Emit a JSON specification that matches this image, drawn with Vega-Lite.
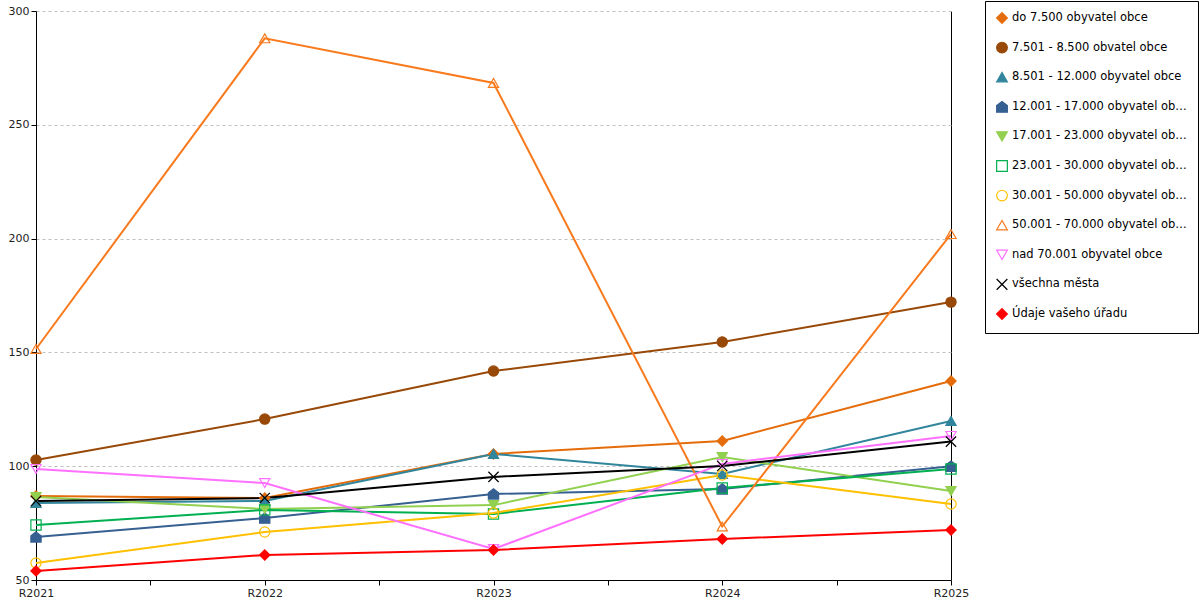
{
  "$schema": "https://vega.github.io/schema/vega-lite/v6.json",
  "width": 915,
  "height": 569,
  "padding": {"left": 8, "top": 0, "right": 0, "bottom": 0},
  "config": {
    "view": {"stroke": null},
    "font": "DejaVu Sans",
    "axis": {"labelFont": "DejaVu Sans", "labelFontSize": 11, "labelColor": "#222222", "domainColor": "black", "tickColor": "black", "tickSize": 5, "labelPadding": 2}
  },
  "data": {
    "values": [
      {"rok": 2021, "skupina": "do 7.500 obyvatel obce", "hodnota": 86.9},
      {"rok": 2022, "skupina": "do 7.500 obyvatel obce", "hodnota": 86.0},
      {"rok": 2023, "skupina": "do 7.500 obyvatel obce", "hodnota": 105.4},
      {"rok": 2024, "skupina": "do 7.500 obyvatel obce", "hodnota": 111.1},
      {"rok": 2025, "skupina": "do 7.500 obyvatel obce", "hodnota": 137.4},
      {"rok": 2021, "skupina": "7.501 - 8.500 obvatel obce", "hodnota": 102.7},
      {"rok": 2022, "skupina": "7.501 - 8.500 obvatel obce", "hodnota": 120.7},
      {"rok": 2023, "skupina": "7.501 - 8.500 obvatel obce", "hodnota": 141.8},
      {"rok": 2024, "skupina": "7.501 - 8.500 obvatel obce", "hodnota": 154.6},
      {"rok": 2025, "skupina": "7.501 - 8.500 obvatel obce", "hodnota": 172.1},
      {"rok": 2021, "skupina": "8.501 - 12.000 obyvatel obce", "hodnota": 83.8},
      {"rok": 2022, "skupina": "8.501 - 12.000 obyvatel obce", "hodnota": 84.7},
      {"rok": 2023, "skupina": "8.501 - 12.000 obyvatel obce", "hodnota": 105.4},
      {"rok": 2024, "skupina": "8.501 - 12.000 obyvatel obce", "hodnota": 96.6},
      {"rok": 2025, "skupina": "8.501 - 12.000 obyvatel obce", "hodnota": 119.9},
      {"rok": 2021, "skupina": "12.001 - 17.000 obyvatel obce", "hodnota": 68.9},
      {"rok": 2022, "skupina": "12.001 - 17.000 obyvatel obce", "hodnota": 77.2},
      {"rok": 2023, "skupina": "12.001 - 17.000 obyvatel obce", "hodnota": 87.8},
      {"rok": 2024, "skupina": "12.001 - 17.000 obyvatel obce", "hodnota": 90.0},
      {"rok": 2025, "skupina": "12.001 - 17.000 obyvatel obce", "hodnota": 100.0},
      {"rok": 2021, "skupina": "17.001 - 23.000 obyvatel obce", "hodnota": 86.5},
      {"rok": 2022, "skupina": "17.001 - 23.000 obyvatel obce", "hodnota": 81.2},
      {"rok": 2023, "skupina": "17.001 - 23.000 obyvatel obce", "hodnota": 82.9},
      {"rok": 2024, "skupina": "17.001 - 23.000 obyvatel obce", "hodnota": 104.0},
      {"rok": 2025, "skupina": "17.001 - 23.000 obyvatel obce", "hodnota": 89.1},
      {"rok": 2021, "skupina": "23.001 - 30.000 obyvatel obce", "hodnota": 74.2},
      {"rok": 2022, "skupina": "23.001 - 30.000 obyvatel obce", "hodnota": 80.8},
      {"rok": 2023, "skupina": "23.001 - 30.000 obyvatel obce", "hodnota": 79.0},
      {"rok": 2024, "skupina": "23.001 - 30.000 obyvatel obce", "hodnota": 90.4},
      {"rok": 2025, "skupina": "23.001 - 30.000 obyvatel obce", "hodnota": 98.8},
      {"rok": 2021, "skupina": "30.001 - 50.000 obyvatel obce", "hodnota": 57.5},
      {"rok": 2022, "skupina": "30.001 - 50.000 obyvatel obce", "hodnota": 71.1},
      {"rok": 2023, "skupina": "30.001 - 50.000 obyvatel obce", "hodnota": 79.4},
      {"rok": 2024, "skupina": "30.001 - 50.000 obyvatel obce", "hodnota": 96.1},
      {"rok": 2025, "skupina": "30.001 - 50.000 obyvatel obce", "hodnota": 83.4},
      {"rok": 2021, "skupina": "50.001 - 70.000 obyvatel obce", "hodnota": 151.5},
      {"rok": 2022, "skupina": "50.001 - 70.000 obyvatel obce", "hodnota": 288.0},
      {"rok": 2023, "skupina": "50.001 - 70.000 obyvatel obce", "hodnota": 268.4},
      {"rok": 2024, "skupina": "50.001 - 70.000 obyvatel obce", "hodnota": 73.5},
      {"rok": 2025, "skupina": "50.001 - 70.000 obyvatel obce", "hodnota": 202.0},
      {"rok": 2021, "skupina": "nad 70.001 obyvatel obce", "hodnota": 98.8},
      {"rok": 2022, "skupina": "nad 70.001 obyvatel obce", "hodnota": 92.6},
      {"rok": 2023, "skupina": "nad 70.001 obyvatel obce", "hodnota": 63.6},
      {"rok": 2024, "skupina": "nad 70.001 obyvatel obce", "hodnota": 101.0},
      {"rok": 2025, "skupina": "nad 70.001 obyvatel obce", "hodnota": 113.3},
      {"rok": 2021, "skupina": "všechna města", "hodnota": 84.7},
      {"rok": 2022, "skupina": "všechna města", "hodnota": 86.0},
      {"rok": 2023, "skupina": "všechna města", "hodnota": 95.3},
      {"rok": 2024, "skupina": "všechna města", "hodnota": 100.1},
      {"rok": 2025, "skupina": "všechna města", "hodnota": 110.8},
      {"rok": 2021, "skupina": "Údaje vašeho úřadu", "hodnota": 54.0},
      {"rok": 2022, "skupina": "Údaje vašeho úřadu", "hodnota": 61.0},
      {"rok": 2023, "skupina": "Údaje vašeho úřadu", "hodnota": 63.2},
      {"rok": 2024, "skupina": "Údaje vašeho úřadu", "hodnota": 68.0},
      {"rok": 2025, "skupina": "Údaje vašeho úřadu", "hodnota": 72.0}
    ]
  },
  "encoding": {
    "x": {
      "field": "rok",
      "type": "quantitative",
      "scale": {"domain": [2021, 2025], "nice": false, "zero": false},
      "axis": {
        "title": null,
        "values": [2021, 2021.5, 2022, 2022.5, 2023, 2023.5, 2024, 2024.5, 2025],
        "labelExpr": "datum.value % 1 == 0 ? 'R' + datum.value : ''",
        "labelFlush": false,
        "labelOverlap": false,
        "grid": true,
        "gridColor": "black",
        "gridOpacity": {"condition": {"test": "datum.value == 2025", "value": 1}, "value": 0}
      }
    },
    "y": {
      "field": "hodnota",
      "type": "quantitative",
      "scale": {"domain": [50, 300], "nice": false, "zero": false},
      "axis": {
        "title": null,
        "values": [50, 100, 150, 200, 250, 300],
        "grid": true,
        "gridColor": "#c0c0c0",
        "gridDash": [3, 3]
      }
    },
    "stroke": {
      "field": "skupina",
      "type": "nominal",
      "scale": {
        "domain": ["do 7.500 obyvatel obce", "7.501 - 8.500 obvatel obce", "8.501 - 12.000 obyvatel obce", "12.001 - 17.000 obyvatel obce", "17.001 - 23.000 obyvatel obce", "23.001 - 30.000 obyvatel obce", "30.001 - 50.000 obyvatel obce", "50.001 - 70.000 obyvatel obce", "nad 70.001 obyvatel obce", "všechna města", "Údaje vašeho úřadu"],
        "range": ["#e46c0a", "#984807", "#31859c", "#376092", "#92d050", "#00b050", "#ffc000", "#f87a1d", "#ff70ff", "#000000", "#ff0000"]
      },
      "legend": {
        "title": null,
        "orient": "none",
        "legendX": 949,
        "legendY": -10,
        "strokeColor": "black",
        "fillColor": "white",
        "padding": 11,
        "labelFont": "DejaVu Sans",
        "labelFontSize": 11.5,
        "labelColor": "black",
        "labelLimit": 175.5,
        "symbolSize": 115,
        "symbolStrokeWidth": 1.2,
        "rowPadding": 13.6,
        "labelOffset": 4
      }
    }
  },
  "layer": [
    {
      "mark": {"type": "line", "strokeWidth": 2}
    },
    {
      "mark": {"type": "point", "size": 105, "strokeWidth": 1.2, "opacity": 1},
      "encoding": {
        "fill": {
          "field": "skupina",
          "type": "nominal",
          "scale": {
            "domain": ["do 7.500 obyvatel obce", "7.501 - 8.500 obvatel obce", "8.501 - 12.000 obyvatel obce", "12.001 - 17.000 obyvatel obce", "17.001 - 23.000 obyvatel obce", "23.001 - 30.000 obyvatel obce", "30.001 - 50.000 obyvatel obce", "50.001 - 70.000 obyvatel obce", "nad 70.001 obyvatel obce", "všechna města", "Údaje vašeho úřadu"],
            "range": ["#e46c0a", "#984807", "#31859c", "#376092", "#92d050", "transparent", "transparent", "transparent", "transparent", "transparent", "#ff0000"]
          },
          "legend": {"title": null}
        },
        "shape": {
          "field": "skupina",
          "type": "nominal",
          "scale": {
            "domain": ["do 7.500 obyvatel obce", "7.501 - 8.500 obvatel obce", "8.501 - 12.000 obyvatel obce", "12.001 - 17.000 obyvatel obce", "17.001 - 23.000 obyvatel obce", "23.001 - 30.000 obyvatel obce", "30.001 - 50.000 obyvatel obce", "50.001 - 70.000 obyvatel obce", "nad 70.001 obyvatel obce", "všechna města", "Údaje vašeho úřadu"],
            "range": ["diamond", "circle", "triangle-up", "M0,-1L1,-0.25L1,1L-1,1L-1,-0.25Z", "triangle-down", "square", "circle", "triangle-up", "triangle-down", "M-1,-1L1,1M1,-1L-1,1", "diamond"]
          },
          "legend": {"title": null}
        }
      }
    }
  ]
}
